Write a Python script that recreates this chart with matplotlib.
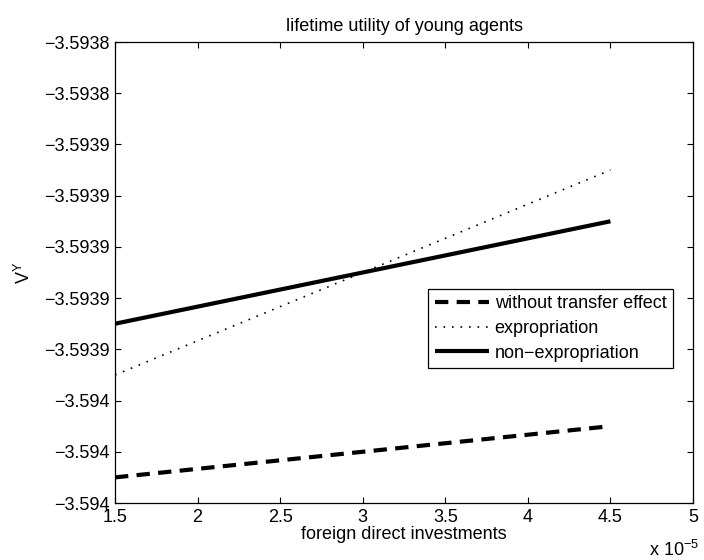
import numpy as np
import matplotlib
matplotlib.use("Agg")
import matplotlib.pyplot as plt
from matplotlib.ticker import FixedLocator, FuncFormatter

plt.rcParams['font.family'] = ['Liberation Sans', 'DejaVu Sans']
plt.rcParams['mathtext.fontset'] = 'custom'
plt.rcParams['mathtext.rm'] = 'Liberation Sans'

# foreign direct investment levels (end points of each simulated path)
fdi = np.array([1.5e-5, 4.5e-5])

# lifetime utility of young agents, V^Y
v_no_transfer = np.array([-3.59399, -3.59397])
v_expropriation = np.array([-3.59395, -3.59387])
v_non_expropriation = np.array([-3.59393, -3.59389])

y_ticks = [-3.59382 - 2e-5 * k for k in range(10)]
x_ticks = [1.5e-5, 2e-5, 2.5e-5, 3e-5, 3.5e-5, 4e-5, 4.5e-5, 5e-5]

fs = 13

fig = plt.figure(figsize=(7.04, 5.6), dpi=100)
ax = fig.add_axes([115 / 704, 57 / 560, 578 / 704, 461 / 560])

ax.plot(fdi, v_no_transfer, color='black', lw=3, linestyle=(0, (3.2, 2)),
        label='without transfer effect')
ax.plot(fdi, v_expropriation, color='black', lw=1.2, linestyle=(0, (1.0, 4.1)),
        label='expropriation')
ax.plot(fdi, v_non_expropriation, color='black', lw=3, solid_capstyle='butt',
        label='non\u2212expropriation')

ax.set_xlim(1.5e-5, 5e-5)
ax.set_ylim(y_ticks[-1], y_ticks[0])
ax.xaxis.set_major_locator(FixedLocator(x_ticks))
ax.yaxis.set_major_locator(FixedLocator(y_ticks))
ax.xaxis.set_major_formatter(FuncFormatter(lambda v, p: '%g' % round(v / 1e-5, 4)))
ax.yaxis.set_major_formatter(FuncFormatter(lambda v, p: ('%.5g' % v).replace('-', '\u2212')))

ax.tick_params(direction='in', length=4, width=0.8, labelsize=fs,
               top=True, right=True, colors='black')
ax.tick_params(axis='x', pad=4)
ax.tick_params(axis='y', pad=4)
for s in ax.spines.values():
    s.set_linewidth(0.9)

ax.set_title('lifetime utility of young agents', fontsize=fs, pad=8)
ax.set_xlabel('foreign direct investments', fontsize=fs, labelpad=0)
ax.set_ylabel(r'$\mathregular{V^Y}$', fontsize=fs)
ax.yaxis.set_label_coords(-0.14, 0.5)

fig.text(699 / 704, 1 - 550 / 560, r'x 10$^{\mathregular{-5}}$', ha='right', va='center',
         fontsize=fs)

leg = ax.legend(loc='upper left', bbox_to_anchor=((428 - 115) / 578, (503 - 289) / 461),
                borderaxespad=0, fancybox=False, edgecolor='black', framealpha=1,
                fontsize=fs, handlelength=3.0, handletextpad=0.33, labelspacing=0.42,
                borderpad=0.36)
leg.get_frame().set_linewidth(0.9)

fig.savefig('out.png', dpi=100)
